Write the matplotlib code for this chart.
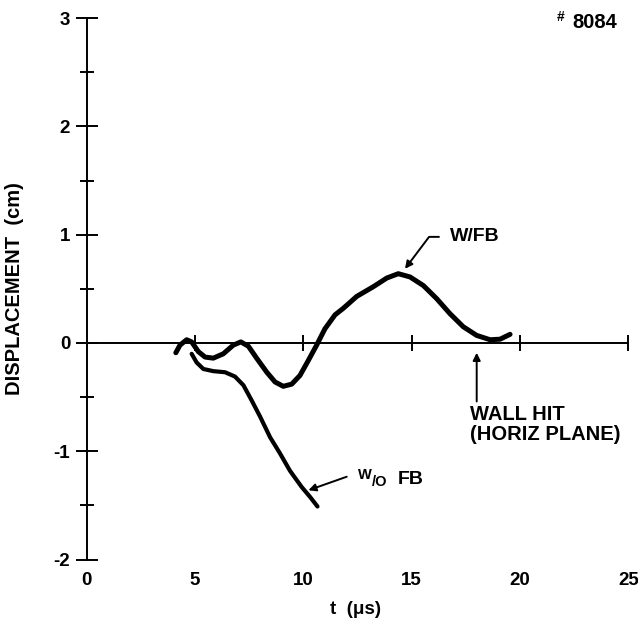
import matplotlib
matplotlib.use("Agg")
import matplotlib.pyplot as plt

# W/FB curve (time in microseconds, displacement in cm)
t_fb = [4.11, 4.30, 4.61, 4.84, 5.15, 5.46, 5.84, 6.30, 6.76, 7.11, 7.46, 7.84,
        8.31, 8.69, 9.07, 9.46, 9.84, 10.23, 10.61, 10.99, 11.46, 11.84, 12.46,
        13.23, 13.85, 14.38, 14.92, 15.54, 16.15, 16.77, 17.38, 18.00, 18.62,
        19.08, 19.54]
d_fb = [-0.09, -0.02, 0.03, 0.01, -0.08, -0.13, -0.14, -0.10, -0.02, 0.01, -0.03,
        -0.14, -0.27, -0.36, -0.40, -0.38, -0.30, -0.16, -0.02, 0.13, 0.26, 0.32,
        0.43, 0.52, 0.60, 0.64, 0.61, 0.53, 0.41, 0.27, 0.15, 0.07, 0.03,
        0.035, 0.08]

# W/O FB curve
t_nofb = [4.84, 5.07, 5.38, 5.84, 6.38, 6.84, 7.23, 7.61, 8.00, 8.46, 8.92,
          9.38, 9.92, 10.30, 10.65]
d_nofb = [-0.10, -0.18, -0.24, -0.26, -0.27, -0.31, -0.39, -0.53, -0.68, -0.87,
          -1.02, -1.18, -1.33, -1.42, -1.51]

x_ticks = [0, 5, 10, 15, 20, 25]
y_major = [-2, -1, 0, 1, 2, 3]
y_minor = [-1.5, -0.5, 0.5, 1.5, 2.5]

plt.rcParams["axes.unicode_minus"] = False
plt.rcParams["font.family"] = ["Liberation Sans", "DejaVu Sans"]
plt.rcParams["font.weight"] = "bold"

fig = plt.figure(figsize=(6.38, 6.24), dpi=100)
ax = fig.add_axes([0.1191, 0.0859, 0.8759, 0.9024])
ax.set_xlim(-0.5, 25.3)
ax.set_ylim(-2.1, 3.1)

for s in ["top", "right"]:
    ax.spines[s].set_visible(False)
ax.spines["left"].set_position(("data", 0))
ax.spines["left"].set_bounds(-2, 3)
ax.spines["bottom"].set_position(("data", 0))
ax.spines["bottom"].set_bounds(0, 25)
for s in ["left", "bottom"]:
    ax.spines[s].set_linewidth(1.4)

ax.set_yticks(y_major)
ax.set_yticks(y_minor, minor=True)
ax.set_yticklabels([str(v) for v in y_major])
ax.tick_params(axis="y", which="major", direction="inout", length=16, width=1.4,
               pad=4, labelsize=13.5)
ax.tick_params(axis="y", which="minor", direction="inout", length=10.5, width=1.4)

ax.set_xticks(x_ticks[1:])
ax.tick_params(axis="x", which="major", direction="inout", length=11.5, width=1.4,
               labelbottom=False)

sec = ax.secondary_xaxis(0.0)
sec.spines["bottom"].set_visible(False)
sec.set_xticks(x_ticks)
sec.set_xticklabels([str(v) for v in x_ticks])
sec.tick_params(length=0, pad=1.5, labelsize=13.5)
sec.set_xlabel("t  (\u03bcs)", fontsize=13.5, fontweight="bold", labelpad=8)

ax.set_ylabel("DISPLACEMENT  (cm)", fontsize=14.5, fontweight="bold")
ax.yaxis.set_label_coords(-0.093, 0.50)

ax.plot(t_fb, d_fb, color="black", lw=3.6, solid_capstyle="round",
        solid_joinstyle="round")
ax.plot(t_nofb, d_nofb, color="black", lw=3.0, solid_capstyle="round",
        solid_joinstyle="round")

# labels with leaders
ax.annotate("W/FB", xy=(14.69, 0.685), xytext=(16.77, 0.98), fontsize=14,
            va="center", ha="left",
            arrowprops=dict(arrowstyle="-|>", color="black", lw=1.4,
                            relpos=(0, 0.5), shrinkA=6, shrinkB=0,
                            mutation_scale=11,
                            connectionstyle="angle,angleA=180,angleB=53,rad=0"))
ax.annotate("", xy=(10.23, -1.36), xytext=(12.0, -1.235),
            arrowprops=dict(arrowstyle="-|>", color="black", lw=1.4,
                            shrinkA=0, shrinkB=0, mutation_scale=11))
ax.text(12.5, -1.22, "W", fontsize=10.5, va="center", ha="left")
ax.text(13.15, -1.28, "/O", fontsize=10.5, va="center", ha="left")
ax.text(14.35, -1.265, "FB", fontsize=14, va="center", ha="left")

ax.annotate("", xy=(18.0, -0.09), xytext=(18.0, -0.54),
            arrowprops=dict(arrowstyle="-|>", color="black", lw=1.4,
                            shrinkA=0, shrinkB=0, mutation_scale=11))
ax.text(17.69, -0.575, "WALL HIT\n(HORIZ PLANE)", fontsize=14.5, va="top",
        ha="left", linespacing=1.05)

ax.text(0.861, 0.982, "#", transform=ax.transAxes, fontsize=10, va="center", ha="left")
ax.text(0.889, 0.973, "8084", transform=ax.transAxes, fontsize=14.5, va="center", ha="left")

fig.savefig("out.png", dpi=100)
